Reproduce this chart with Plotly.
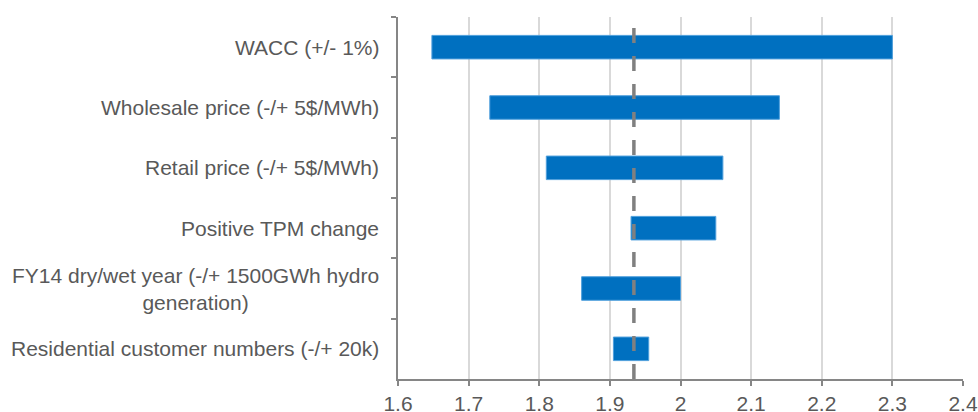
import plotly.graph_objects as go

categories = [
    "WACC (+/- 1%)",
    "Wholesale price (-/+ 5$/MWh)",
    "Retail price (-/+ 5$/MWh)",
    "Positive TPM change",
    "FY14 dry/wet year (-/+ 1500GWh hydro<br>generation)",
    "Residential customer numbers (-/+ 20k)",
]
low_values = [1.648, 1.73, 1.81, 1.93, 1.86, 1.905]
high_values = [2.30, 2.14, 2.06, 2.05, 2.00, 1.955]
base_value = 1.934
x_tick_values = [1.6, 1.7, 1.8, 1.9, 2.0, 2.1, 2.2, 2.3, 2.4]
x_tick_labels = ["1.6", "1.7", "1.8", "1.9", "2", "2.1", "2.2", "2.3", "2.4"]

text_color = "#595959"
axis_color = "#868686"
font_family = "Liberation Sans, Arial, sans-serif"

fig = go.Figure()
fig.add_trace(go.Bar(
    y=categories,
    x=[h - l for h, l in zip(high_values, low_values)],
    base=low_values,
    orientation="h",
    marker=dict(color="#0070C0", line=dict(color="#4f9fdc", width=1)),
    width=0.39,
    hoverinfo="skip",
))

fig.add_shape(
    type="line", xref="x", yref="paper",
    x0=base_value, x1=base_value, y0=0.0, y1=1.0,
    line=dict(color="#808080", width=3.5, dash="15px,13px"),
    layer="above",
)

for cat in categories:
    fig.add_annotation(
        x=0, xref="paper", y=cat, yref="y",
        text=cat, showarrow=False, xanchor="right", yanchor="middle",
        xshift=-17, align="center",
        font=dict(family=font_family, size=21, color=text_color),
    )

fig.update_layout(
    width=978, height=412,
    margin=dict(l=398, r=15, t=17, b=33),
    paper_bgcolor="white", plot_bgcolor="white",
    showlegend=False,
    font=dict(family=font_family, size=21, color=text_color),
    xaxis=dict(
        range=[1.6, 2.4],
        automargin=False,
        tickvals=x_tick_values, ticktext=x_tick_labels,
        showgrid=True, gridcolor="#d9d9d9", gridwidth=1.5,
        showline=True, linecolor=axis_color, linewidth=1.5,
        ticks="outside", ticklen=5, tickcolor=axis_color, tickwidth=1.5,
        zeroline=False,
        tickfont=dict(family=font_family, size=21, color=text_color),
    ),
    yaxis=dict(
        type="category",
        automargin=False,
        categoryorder="array", categoryarray=categories,
        autorange="reversed",
        showticklabels=False,
        tickson="boundaries",
        ticks="outside", ticklen=5, tickcolor=axis_color, tickwidth=1.5,
        showline=True, linecolor=axis_color, linewidth=1.5,
        showgrid=False, zeroline=False,
    ),
)

fig.write_html("out.html")
